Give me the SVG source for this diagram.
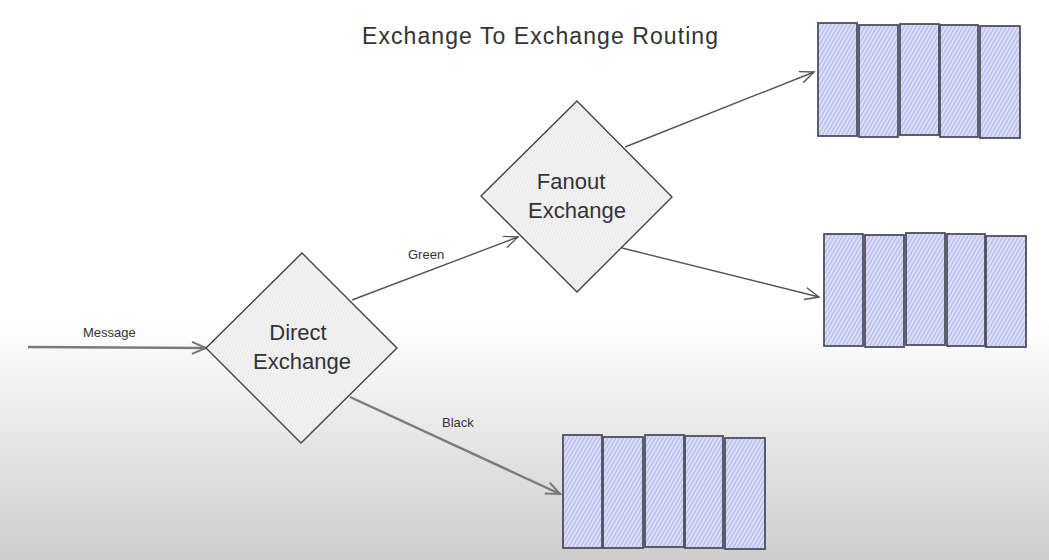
<svg xmlns="http://www.w3.org/2000/svg" width="1049" height="560" viewBox="0 0 1049 560">
  <style>
    .lbl { font-family: "Liberation Sans", Arial, sans-serif; fill: #333; }
    .title { font-size: 23px; }
    .node-text { font-size: 22px; text-anchor: middle; }
    .edge-text { font-size: 13px; }
    .diamond { fill: url(#hatchGray); stroke: #444; stroke-width: 1.4; }
    .cell { fill: url(#hatchBlue); stroke: #4e4e5e; stroke-width: 1.8; }
    .edge { fill: none; stroke: #555; stroke-width: 1.4; }
    .edge-thick { fill: none; stroke: #7a7a7a; stroke-width: 2.4; }
  </style>
  <defs>
    <linearGradient id="bg" x1="0" y1="320" x2="0" y2="560" gradientUnits="userSpaceOnUse">
      <stop offset="0" stop-color="#ffffff"/>
      <stop offset="1" stop-color="#cdcdcd"/>
    </linearGradient>
    <pattern id="hatchBlue" width="3.4" height="10" patternUnits="userSpaceOnUse" patternTransform="rotate(30)">
      <rect width="3.4" height="10" fill="#dcdff9"/>
      <line x1="1" y1="0" x2="1" y2="10" stroke="#afb4e8" stroke-width="1.1"/>
    </pattern>
    <pattern id="hatchGray" width="3" height="10" patternUnits="userSpaceOnUse" patternTransform="rotate(20)">
      <rect width="3" height="10" fill="#f5f5f5"/>
      <line x1="1" y1="0" x2="1" y2="10" stroke="#dcdcdc" stroke-width="0.7"/>
    </pattern>
    <marker id="ah" markerWidth="20" markerHeight="20" refX="16" refY="10" orient="auto" markerUnits="userSpaceOnUse">
      <path d="M2,4 L16,10 L2,16" fill="none" stroke="#555" stroke-width="1.4"/>
    </marker>
    <marker id="ahThick" markerWidth="20" markerHeight="20" refX="16" refY="10" orient="auto" markerUnits="userSpaceOnUse">
      <path d="M2,4 L16,10 L2,16" fill="none" stroke="#777" stroke-width="2"/>
    </marker>
  </defs>

  <rect x="0" y="0" width="1049" height="560" fill="url(#bg)"/>

  <g id="title">
    <text class="lbl title" x="362" y="44" textLength="356" lengthAdjust="spacing">Exchange To Exchange Routing</text>
  </g>

  <g id="connectors">
    <line class="edge-thick" x1="28" y1="347" x2="206" y2="348" marker-end="url(#ahThick)"/>
    <text class="lbl edge-text" x="83" y="337">Message</text>
    <line class="edge" x1="352" y1="300" x2="518" y2="237" marker-end="url(#ah)"/>
    <text class="lbl edge-text" x="408" y="259">Green</text>
    <line class="edge-thick" x1="350" y1="397" x2="560" y2="494" marker-end="url(#ahThick)"/>
    <text class="lbl edge-text" x="442" y="427">Black</text>
    <line class="edge" x1="625" y1="147" x2="814" y2="72" marker-end="url(#ah)"/>
    <line class="edge" x1="622" y1="248" x2="819" y2="297" marker-end="url(#ah)"/>
  </g>

  <g id="direct-exchange">
    <polygon class="diamond" points="302,253 397,348 301,443 206,348"/>
    <text class="lbl node-text" x="298" y="340">Direct</text>
    <text class="lbl node-text" x="302" y="369">Exchange</text>
  </g>

  <g id="fanout-exchange">
    <polygon class="diamond" points="577,101 672,197 577,292 481,196"/>
    <text class="lbl node-text" x="571" y="189">Fanout</text>
    <text class="lbl node-text" x="577" y="218">Exchange</text>
  </g>

  <g id="queue-top">
    <rect class="cell" x="818" y="23" width="39" height="113"/>
    <rect class="cell" x="859" y="25" width="39" height="112"/>
    <rect class="cell" x="900" y="24" width="39" height="111"/>
    <rect class="cell" x="940" y="25" width="38" height="112"/>
    <rect class="cell" x="980" y="26" width="40" height="112"/>
  </g>

  <g id="queue-middle">
    <rect class="cell" x="824" y="234" width="39" height="112"/>
    <rect class="cell" x="865" y="235" width="39" height="112"/>
    <rect class="cell" x="906" y="233" width="39" height="112"/>
    <rect class="cell" x="947" y="234" width="38" height="112"/>
    <rect class="cell" x="986" y="236" width="40" height="111"/>
  </g>

  <g id="queue-bottom">
    <rect class="cell" x="563" y="435" width="39" height="113"/>
    <rect class="cell" x="603" y="437" width="40" height="111"/>
    <rect class="cell" x="645" y="435" width="39" height="112"/>
    <rect class="cell" x="685" y="436" width="38" height="112"/>
    <rect class="cell" x="725" y="438" width="40" height="111"/>
  </g>
</svg>
